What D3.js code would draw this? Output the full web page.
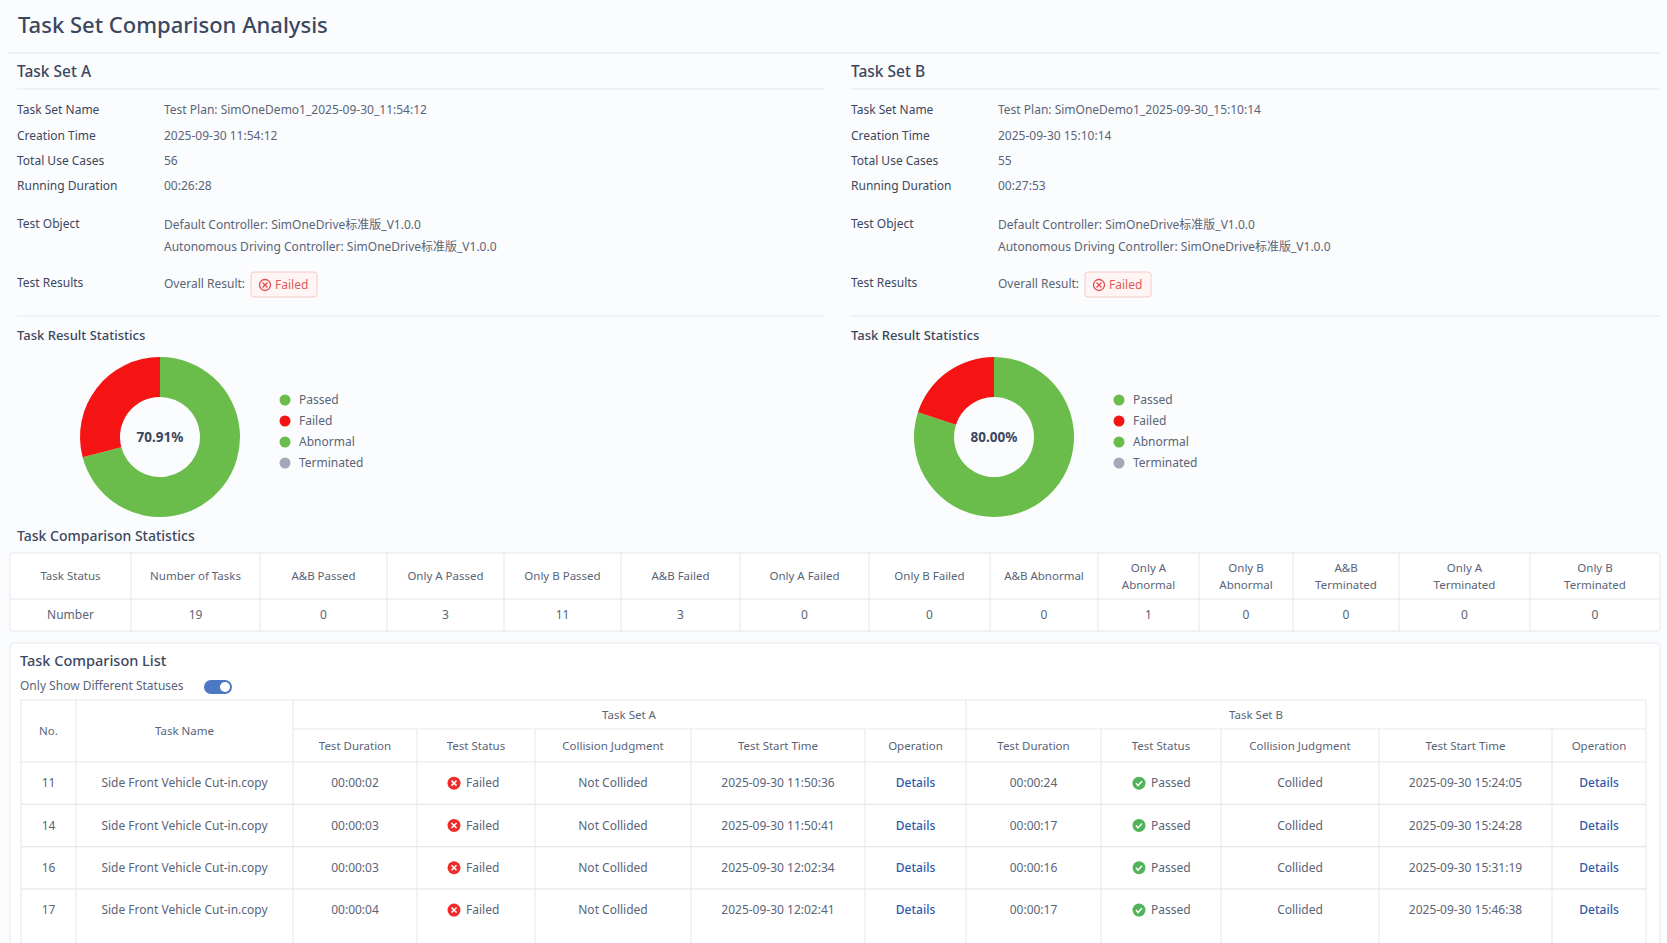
<!DOCTYPE html>
<html lang="en">
<head>
<meta charset="UTF-8">
<title>Task Set Comparison Analysis</title>
<script src="https://d3js.org/d3.v7.min.js"></script>
<style>
  body { margin: 0; background: #fbfcfd; overflow: hidden; }
  text { font-family: "Noto Sans", "Noto Sans CJK SC", sans-serif; }
</style>
</head>
<body>
<script>
// ---- data ----
const setNames = ["Task Set A", "Task Set B"];
const infoLabels = ["Task Set Name", "Creation Time", "Total Use Cases", "Running Duration"];
const infoA = ["Test Plan: SimOneDemo1_2025-09-30_11:54:12", "2025-09-30 11:54:12", "56", "00:26:28"];
const infoB = ["Test Plan: SimOneDemo1_2025-09-30_15:10:14", "2025-09-30 15:10:14", "55", "00:27:53"];
const testObjects = ["Default Controller: SimOneDrive标准版_V1.0.0", "Autonomous Driving Controller: SimOneDrive标准版_V1.0.0"];
const resultCategories = ["Passed", "Failed", "Abnormal", "Terminated"];
const resultColors = ["#6abd4b", "#f51414", "#6abd4b", "#a3a9b8"];
const resultsA = [39, 16, 0, 0];
const resultsB = [44, 11, 0, 0];
const passRateA = "70.91%";
const passRateB = "80.00%";

const statHeaders = ["Task Status", "Number of Tasks", "A&B Passed", "Only A Passed", "Only B Passed", "A&B Failed", "Only A Failed", "Only B Failed", "A&B Abnormal", "Only A\nAbnormal", "Only B\nAbnormal", "A&B\nTerminated", "Only A\nTerminated", "Only B\nTerminated"];
const statValues = ["Number", 19, 0, 3, 11, 3, 0, 0, 0, 1, 0, 0, 0, 0];

const listNo = [11, 14, 16, 17];
const listName = ["Side Front Vehicle Cut-in.copy", "Side Front Vehicle Cut-in.copy", "Side Front Vehicle Cut-in.copy", "Side Front Vehicle Cut-in.copy"];
const durA = ["00:00:02", "00:00:03", "00:00:03", "00:00:04"];
const statusA = ["Failed", "Failed", "Failed", "Failed"];
const collA = ["Not Collided", "Not Collided", "Not Collided", "Not Collided"];
const startA = ["2025-09-30 11:50:36", "2025-09-30 11:50:41", "2025-09-30 12:02:34", "2025-09-30 12:02:41"];
const durB = ["00:00:24", "00:00:17", "00:00:16", "00:00:17"];
const statusB = ["Passed", "Passed", "Passed", "Passed"];
const collB = ["Collided", "Collided", "Collided", "Collided"];
const startB = ["2025-09-30 15:24:05", "2025-09-30 15:24:28", "2025-09-30 15:31:19", "2025-09-30 15:46:38"];
const subHeaders = ["Test Duration", "Test Status", "Collision Judgment", "Test Start Time", "Operation"];

// ---- drawing ----
const W = 1667, H = 943;
const DARK = "#3b4760", TXT = "#5a6478", LINE = "#e3e7ee", BLUE = "#2f5aa8";
const FS = 12;
const svg = d3.select("body").append("svg").attr("width", W).attr("height", H);

function txt(x, y, s, o = {}) {
  return svg.append("text").attr("x", x).attr("y", y).attr("dy", "0.35em")
    .attr("font-size", o.size || FS).attr("fill", o.fill || TXT)
    .attr("font-weight", o.weight || 400).attr("text-anchor", o.anchor || "start").text(s);
}
function hline(x1, x2, y, c = LINE, w = 1.2) {
  svg.append("line").attr("x1", x1).attr("x2", x2).attr("y1", y).attr("y2", y).attr("stroke", c).attr("stroke-width", w);
}
function vline(x, y1, y2, c = LINE) {
  svg.append("line").attr("x1", x).attr("x2", x).attr("y1", y1).attr("y2", y2).attr("stroke", c).attr("stroke-width", 1);
}

txt(18, 25, "Task Set Comparison Analysis", { size: 22, fill: DARK, weight: 500 });
hline(8, 1660, 53);

const panels = [
  { x0: 17, x1: 825, info: infoA, res: resultsA, rate: passRateA },
  { x0: 851, x1: 1660, info: infoB, res: resultsB, rate: passRateB }
];
const infoY = d3.scalePoint().domain(infoLabels).range([110, 186]);
const pie = d3.pie().sort(null).value(d => d);
const arc = d3.arc().innerRadius(40).outerRadius(80);
const legY = d3.scalePoint().domain(resultCategories).range([400, 463]);

panels.forEach((p, i) => {
  txt(p.x0, 72, setNames[i], { size: 15.5, fill: DARK, weight: 500 });
  hline(p.x0, p.x1, 89);
  infoLabels.forEach((l, j) => {
    txt(p.x0, infoY(l), l, { fill: DARK });
    txt(p.x0 + 147, infoY(l), p.info[j]);
  });
  txt(p.x0, 224, "Test Object", { fill: DARK });
  testObjects.forEach((t, j) => txt(p.x0 + 147, 225 + j * 22, t));
  txt(p.x0, 283, "Test Results", { fill: DARK });
  txt(p.x0 + 147, 284, "Overall Result:");
  svg.append("rect").attr("x", p.x0 + 234).attr("y", 272).attr("width", 66).attr("height", 25).attr("rx", 3)
    .attr("fill", "#fff5f5").attr("stroke", "#f6caca");
  svg.append("circle").attr("cx", p.x0 + 248).attr("cy", 285).attr("r", 5.5).attr("fill", "none").attr("stroke", "#e54848").attr("stroke-width", 1.3);
  svg.append("path").attr("d", `M${p.x0 + 245.5},282.5l5,5M${p.x0 + 250.5},282.5l-5,5`).attr("stroke", "#e54848").attr("stroke-width", 1.3);
  txt(p.x0 + 258, 285, "Failed", { fill: "#e05a5a" });
  hline(p.x0, p.x1, 316);
  txt(p.x0, 335, "Task Result Statistics", { size: 13, fill: DARK, weight: 500 });

  const g = svg.append("g").attr("transform", `translate(${p.x0 + 143},437)`);
  g.selectAll("path").data(pie(p.res)).join("path").attr("d", arc).attr("fill", (d, k) => resultColors[k]);
  g.append("text").attr("text-anchor", "middle").attr("dy", "0.35em").attr("font-size", 13.5)
    .attr("font-weight", 700).attr("fill", DARK).text(p.rate);
  resultCategories.forEach((c, k) => {
    svg.append("circle").attr("cx", p.x0 + 268).attr("cy", legY(c)).attr("r", 5.5).attr("fill", resultColors[k]);
    txt(p.x0 + 282, legY(c), c);
  });
});

// ---- comparison statistics table ----
txt(17, 536, "Task Comparison Statistics", { size: 14, fill: DARK, weight: 500 });
const statX = [10, 131, 260, 387, 504, 621, 740, 869, 990, 1098, 1199, 1293, 1399, 1530, 1660];
svg.append("rect").attr("x", 10).attr("y", 553).attr("width", 1650).attr("height", 78).attr("rx", 3).attr("fill", "#fff").attr("stroke", LINE);
hline(10, 1660, 599);
statHeaders.forEach((h, i) => {
  if (i > 0) vline(statX[i], 553, 631);
  const cx = (statX[i] + statX[i + 1]) / 2;
  const lines = h.split("\n");
  lines.forEach((l, j) => txt(cx, 576 + (j - (lines.length - 1) / 2) * 17, l, { size: 11.5, anchor: "middle" }));
  txt(cx, 615, statValues[i], { anchor: "middle" });
});

// ---- comparison list ----
svg.append("rect").attr("x", 10).attr("y", 643).attr("width", 1650).attr("height", 320).attr("rx", 4).attr("fill", "#fff").attr("stroke", LINE);
txt(20, 661, "Task Comparison List", { size: 14.5, fill: DARK, weight: 500 });
txt(20, 686, "Only Show Different Statuses");
svg.append("rect").attr("x", 204).attr("y", 680).attr("width", 28).attr("height", 14).attr("rx", 7).attr("fill", "#4a78c2");
svg.append("circle").attr("cx", 225).attr("cy", 687).attr("r", 5).attr("fill", "#fff");

const colX = [21, 76, 293, 417, 535, 691, 865, 966, 1101, 1221, 1379, 1552, 1646];
const rowTop = 762, rowH = 42.3;
const rowY = d3.scaleBand().domain(listNo.map(String)).range([rowTop, rowTop + rowH * listNo.length]);
svg.append("rect").attr("x", 21).attr("y", 700).attr("width", 1625).attr("height", 245).attr("fill", "#fff").attr("stroke", LINE);
hline(293, 1646, 729);
hline(21, 1646, 762);
listNo.slice(0, -1).forEach(n => hline(21, 1646, rowY(String(n)) + rowH));
colX.slice(1, -1).forEach((x, i) => {
  const top = (i === 0 || i === 1 || i === 6) ? 700 : 729;
  vline(x, top, 945);
});
txt(48.5, 731, "No.", { size: 11.5, anchor: "middle" });
txt(184.5, 731, "Task Name", { size: 11.5, anchor: "middle" });
txt(629, 715, "Task Set A", { size: 11.5, anchor: "middle" });
txt(1256, 715, "Task Set B", { size: 11.5, anchor: "middle" });
subHeaders.concat(subHeaders).forEach((h, i) => txt((colX[i + 2] + colX[i + 3]) / 2, 746, h, { size: 11.5, anchor: "middle" }));

function statusCell(cx, cy, s) {
  const pass = s === "Passed";
  svg.append("circle").attr("cx", cx - 22).attr("cy", cy).attr("r", 6.5).attr("fill", pass ? "#52b45a" : "#ef2b2b");
  if (pass) svg.append("path").attr("d", `M${cx - 25},${cy}l2,2.5l4,-4.5`).attr("stroke", "#fff").attr("stroke-width", 1.5).attr("fill", "none");
  else svg.append("path").attr("d", `M${cx - 24.5},${cy - 2.5}l5,5M${cx - 19.5},${cy - 2.5}l-5,5`).attr("stroke", "#fff").attr("stroke-width", 1.5);
  txt(cx - 10, cy, s);
}
listNo.forEach((n, i) => {
  const cy = rowY(String(n)) + rowH / 2;
  const c = k => (colX[k] + colX[k + 1]) / 2;
  txt(c(0), cy, n, { anchor: "middle" });
  txt(c(1), cy, listName[i], { anchor: "middle" });
  txt(c(2), cy, durA[i], { anchor: "middle" });
  statusCell(c(3), cy, statusA[i]);
  txt(c(4), cy, collA[i], { anchor: "middle" });
  txt(c(5), cy, startA[i], { anchor: "middle" });
  txt(c(6), cy, "Details", { anchor: "middle", fill: BLUE, weight: 500 });
  txt(c(7), cy, durB[i], { anchor: "middle" });
  statusCell(c(8), cy, statusB[i]);
  txt(c(9), cy, collB[i], { anchor: "middle" });
  txt(c(10), cy, startB[i], { anchor: "middle" });
  txt(c(11), cy, "Details", { anchor: "middle", fill: BLUE, weight: 500 });
});
</script>
</body>
</html>
